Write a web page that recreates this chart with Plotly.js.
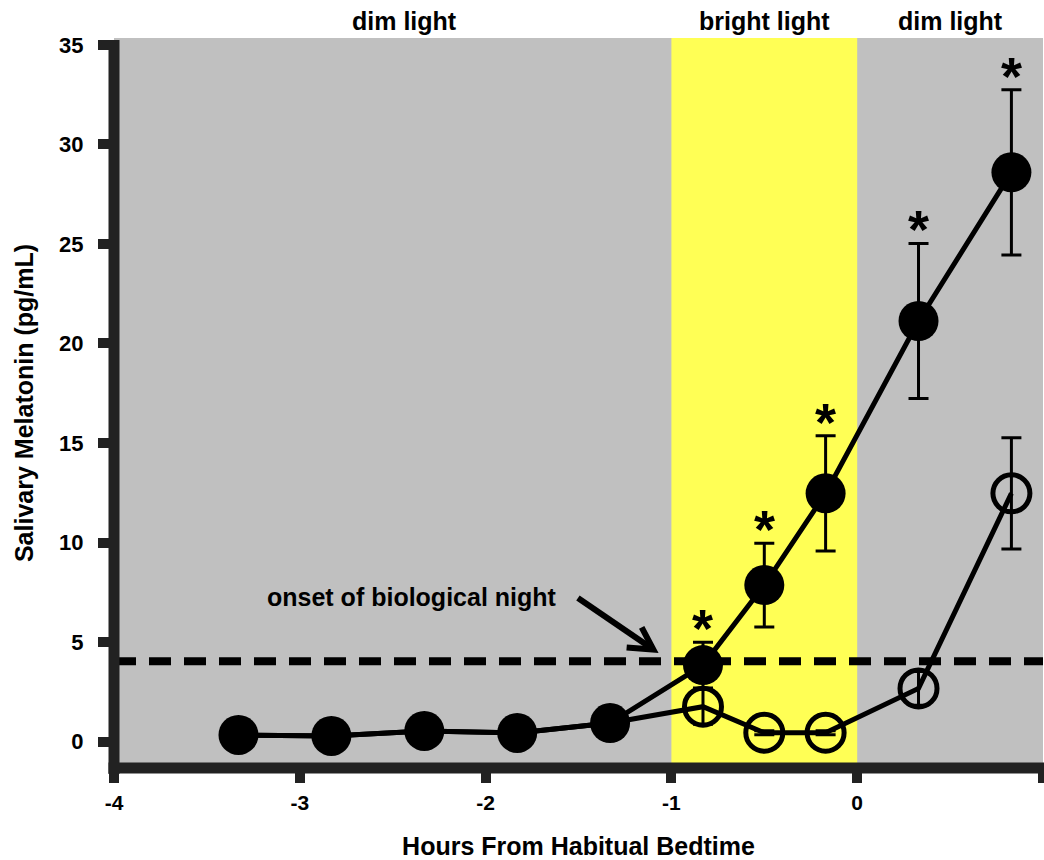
<!DOCTYPE html>
<html>
<head>
<meta charset="utf-8">
<script src="https://cdn.plot.ly/plotly-3.0.1.min.js"></script>
<style>html,body{margin:0;padding:0;background:#fff;} #chart{width:1044px;height:860px;}</style>
</head>
<body>
<div id="chart"></div>
<script>
// ---- data ----
const hours = [-3.33, -2.83, -2.33, -1.83, -1.33, -0.83, -0.5, -0.17, 0.33, 0.83];
const brightMelatonin = [0.33, 0.28, 0.53, 0.43, 0.93, 3.84, 7.86, 12.47, 21.13, 28.6];
const brightSem = [0.2, 0.2, 0.2, 0.2, 0.3, 1.15, 2.1, 2.9, 3.9, 4.15];
const dimMelatonin = [0.33, 0.28, 0.53, 0.43, 0.93, 1.75, 0.44, 0.44, 2.67, 12.47];
const dimSem = [0, 0, 0, 0, 0, 0.88, 0.1, 0.1, 0.85, 2.8];
const significant = [false, false, false, false, false, true, true, true, true, true];
const nightThreshold = 4.04;
const periodLabels = ['dim light', 'bright light', 'dim light'];
const periodStart = [-4, -1, 0];
const periodEnd = [-1, 0, 1];
const xTickVals = [-4, -3, -2, -1, 0, 1];
const xTickText = ['-4', '-3', '-2', '-1', '0', '1'];
const yTickVals = [0, 5, 10, 15, 20, 25, 30, 35];
const xTitle = 'Hours From Habitual Bedtime';
const yTitle = 'Salivary Melatonin (pg/mL)';
const thresholdLabel = 'onset of biological night';

// ---- styling ----
const FONT = 'Liberation Sans, Arial, Helvetica, sans-serif';
const AXIS = '#222222';
const GRAY = '#c0c0c0';
const YELLOW = '#ffff55';
const XR = [-4, 1];
const YR = [-1.33, 35.35];

const dimTrace = {
  x: hours, y: dimMelatonin, type: 'scatter', mode: 'lines+markers',
  line: {color: 'black', width: 5},
  marker: {symbol: 'circle-open', size: hours.map((h, i) => significant[i] ? 37 : 0), opacity: 1,
           color: 'black', line: {color: 'black', width: 5}},
  error_y: {type: 'data', array: dimSem, visible: true, color: 'black', thickness: 3, width: 10},
  hoverinfo: 'skip'
};
const brightTrace = {
  x: hours, y: brightMelatonin, type: 'scatter', mode: 'lines+markers',
  line: {color: 'black', width: 5},
  marker: {symbol: 'circle', size: 40, color: 'black', opacity: 1},
  error_y: {type: 'data', array: brightSem, visible: true, color: 'black', thickness: 3, width: 10},
  hoverinfo: 'skip'
};

const shapes = [];
// light periods (bright one in yellow)
periodLabels.forEach((lab, i) => {
  if (lab === 'bright light') {
    shapes.push({type: 'rect', xref: 'x', yref: 'paper', x0: periodStart[i], x1: periodEnd[i], y0: 0, y1: 1,
                 fillcolor: YELLOW, line: {width: 0}, layer: 'below'});
  }
});
// threshold dashed line
shapes.push({type: 'line', xref: 'x', yref: 'y', x0: XR[0], x1: XR[1], y0: nightThreshold, y1: nightThreshold,
             line: {color: 'black', width: 8, dash: '22px,13px'}, layer: 'above'});
// arrow (shaft + open chevron head)
shapes.push({type: 'path', xref: 'x', yref: 'y',
             path: 'M -1.503 7.21 L -1.097 4.62',
             line: {color: 'black', width: 6}, layer: 'above'});
shapes.push({type: 'path', xref: 'x', yref: 'y',
             path: 'M -1.160 5.74 L -1.097 4.62 L -1.241 4.73',
             line: {color: 'black', width: 6}, layer: 'above'});
// axis lines
shapes.push({type: 'line', xref: 'paper', yref: 'paper', x0: 0, x1: 0, y0: -0.0082, y1: 0.9973,
             line: {color: AXIS, width: 11}, layer: 'above'});
shapes.push({type: 'line', xref: 'paper', yref: 'paper', x0: -0.0059, x1: 1.0011, y0: 0, y1: 0,
             line: {color: AXIS, width: 11}, layer: 'above'});

const annotations = [];
periodLabels.forEach((lab, i) => {
  annotations.push({text: lab, xref: 'x', yref: 'paper', x: (periodStart[i] + periodEnd[i]) / 2, y: 1.0233,
                    xanchor: 'center', yanchor: 'middle', showarrow: false, xshift: i === 0 ? 12 : 0,
                    font: {family: FONT, size: 25, color: 'black', weight: 'bold'}});
});
hours.forEach((h, i) => {
  if (significant[i]) {
    annotations.push({text: '*', xref: 'x', yref: 'y', x: h, y: brightMelatonin[i] + brightSem[i],
                      xanchor: 'center', yanchor: 'bottom', yshift: -18, showarrow: false,
                      font: {family: FONT, size: 54, color: 'black', weight: 'bold'}});
  }
});
annotations.push({text: thresholdLabel, xref: 'x', yref: 'y', x: -2.398, y: 7.26,
                  xanchor: 'center', yanchor: 'middle', showarrow: false,
                  font: {family: FONT, size: 25, color: 'black', weight: 'bold'}});

const layout = {
  width: 1044, height: 860,
  margin: {l: 114, r: 1, t: 38, b: 92, pad: 0},
  paper_bgcolor: 'white', plot_bgcolor: GRAY,
  showlegend: false,
  xaxis: {range: XR, tickmode: 'array', tickvals: xTickVals, ticktext: xTickText, ticks: 'outside', ticklen: 14, tickwidth: 10,
          tickcolor: AXIS, showline: false, showgrid: false, zeroline: false, automargin: false,
          ticklabelstandoff: 2,
          tickfont: {family: FONT, size: 21, color: 'black', weight: 'bold'},
          title: {text: xTitle, standoff: 24, font: {family: FONT, size: 25, color: 'black', weight: 'bold'}}},
  yaxis: {range: YR, tickmode: 'array', tickvals: yTickVals, ticks: 'outside', ticklen: 15, tickwidth: 10,
          tickcolor: AXIS, showline: false, showgrid: false, zeroline: false, automargin: false,
          ticklabelstandoff: 10,
          tickfont: {family: FONT, size: 22, color: 'black', weight: 'bold'},
          title: {text: yTitle, standoff: 18, font: {family: FONT, size: 25, color: 'black', weight: 'bold'}}},
  shapes: shapes,
  annotations: annotations
};

Plotly.newPlot('chart', [dimTrace, brightTrace], layout, {displayModeBar: false, staticPlot: true});
</script>
</body>
</html>
